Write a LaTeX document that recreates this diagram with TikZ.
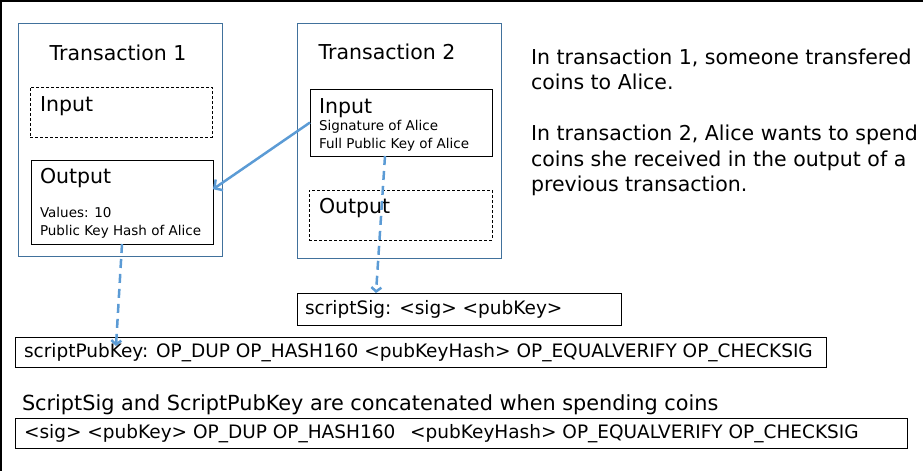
\documentclass[tikz,border=0pt]{standalone}
\usepackage{fontspec}
\setmainfont{DejaVu Sans}
\usetikzlibrary{arrows.meta, positioning}
\definecolor{txblue}{RGB}{65,113,156}
\definecolor{linkblue}{RGB}{91,155,213}
\tikzset{
	every node/.style={inner sep=0pt, outer sep=0pt},
	txbox/.style={draw=txblue, line width=1pt, anchor=north west},
	partbox/.style={draw=black, line width=1pt, anchor=north west},
	ghostbox/.style={partbox, dash pattern=on 3pt off 2pt},
	big/.style={font=\fontsize{20.5}{25.5}\selectfont, anchor=base west},
	small/.style={font=\fontsize{13.5}{17.5}\selectfont, anchor=north west, align=left},
	code/.style={font=\fontsize{18.5}{22}\selectfont, anchor=base west},
	link/.style={draw=linkblue, line width=2.5pt, -{Straight Barb[length=6pt, width=13pt]}},
	flow/.style={draw=linkblue, line width=2.5pt, dash pattern=on 9pt off 6pt, -{Straight Barb[length=4pt, width=10pt]}}}

\begin{document}
\begin{tikzpicture}[x=1pt, y=-1pt]
	\useasboundingbox (0,0) rectangle (923,471);
	\draw[line width=2pt] (0,1) -- (923,1);
	\draw[line width=1.5pt] (0.75,0) -- (0.75,471);
	
	% transaction 1
	\node[txbox, minimum width=204pt, minimum height=233pt] (tx1) at (18,23) {};
	\node[big, anchor=base] (tx1title) at (118,60) {Transaction 1};
	\node[ghostbox, minimum width=182pt, minimum height=50pt] (in1) at (30,87) {};
	\node[big] (in1lbl) at (40,111) {Input};
	\node[partbox, minimum width=182pt, minimum height=84pt] (out1) at (31,160) {};
	\node[big] (out1lbl) at (40,183) {Output};
	\node[small] (out1txt) at (40,207.5) {Values: 10\\Public Key Hash of Alice};
	
	% transaction 2
	\node[txbox, minimum width=204pt, minimum height=235pt] (tx2) at (297,23) {};
	\node[big, anchor=base] (tx2title) at (387,59) {Transaction 2};
	\node[partbox, minimum width=182pt, minimum height=67pt] (in2) at (310,89) {};
	\node[big] (in2lbl) at (319,113) {Input};
	\node[small] (in2txt) at (319,120.5) {Signature of Alice\\Full Public Key of Alice};
	\node[ghostbox, minimum width=183pt, minimum height=50pt] (out2) at (309,190) {};
	\node[big] (out2lbl) at (319,213) {Output};
	
	% notes
	\node[big, anchor=north west, align=left] (note) at (531,48.5) {In transaction 1, someone transfered\\coins to Alice.\\[25.5pt]In transaction 2, Alice wants to spend\\coins she received in the output of a\\previous transaction.};
	
	% scripts
	\node[partbox, minimum width=324pt, minimum height=32pt] (sig) at (297,293) {};
	\node[code] (sigtxt) at (305,314) {scriptSig: <sig> <pubKey>};
	\node[partbox, minimum width=811pt, minimum height=30pt] (pubkey) at (15,337) {};
	\node[code] (pubkeytxt) at (24,357) {scriptPubKey: OP\_DUP OP\_HASH160 <pubKeyHash> OP\_EQUALVERIFY OP\_CHECKSIG};
	\node[code, font=\fontsize{20.8}{24}\selectfont] (caption) at (22,410) {ScriptSig and ScriptPubKey are concatenated when spending coins};
	\node[partbox, minimum width=892pt, minimum height=30pt] (concat) at (15,418) {};
	\node[code] (concattxt) at (24,438) {<sig> <pubKey> OP\_DUP OP\_HASH160\ \ \,<pubKeyHash> OP\_EQUALVERIFY OP\_CHECKSIG};
	
	\coordinate (pktip) at (116,346);
	\draw[link] (in2.west) -- (out1.8);
	\draw[flow] (out1.south) -- (pktip);
	\draw[flow] ([xshift=-16pt]in2.south) -- ([xshift=-83pt]sig.north);
	
\end{tikzpicture}
\end{document}
